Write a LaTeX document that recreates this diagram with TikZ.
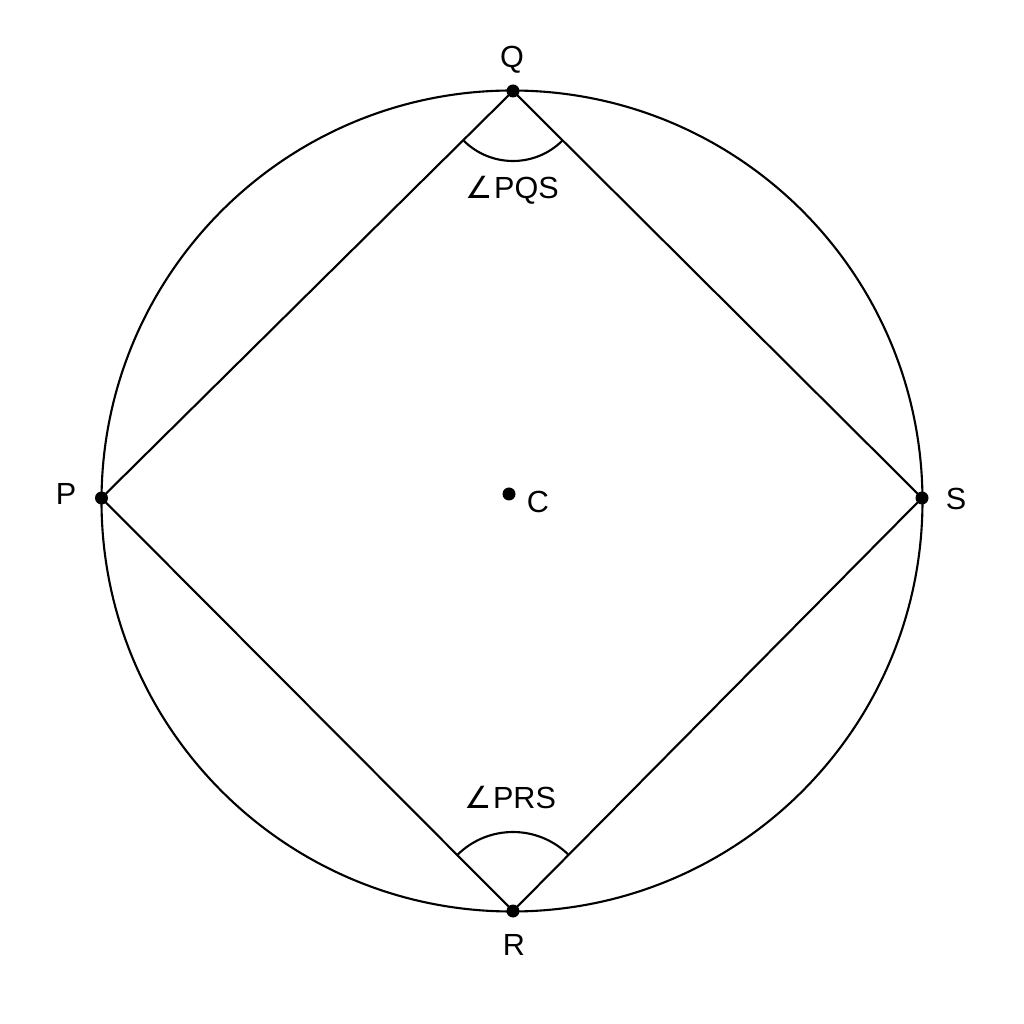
\documentclass[tikz,border=0pt]{standalone}
\usepackage{fontspec}
\setmainfont{Liberation Sans}
\newfontfamily\symfont{DejaVu Sans}
\newcommand{\angsym}{{\symfont\char"2220}\kern0.05em}
\usetikzlibrary{calc}

\begin{document}
\begin{tikzpicture}[line width=0.6pt, font=\fontsize{8.7}{10}\selectfont,
    dot/.style={circle,fill=black,inner sep=0pt,minimum size=0.13cm}]
        \useasboundingbox (0,0) rectangle (10.24,10.24);

        % Draw the circle
        \coordinate (O) at (5.12,5.23);
        \draw (O) circle[radius=4.105];

        % Points on the circle
        \node[dot] (Q) at ($(O)+(0.01,4.1)$) {};
        \node[dot] (P) at ($(O)+(-4.105,0.03)$) {};
        \node[dot] (S) at ($(O)+(4.1,0.03)$) {};
        \node[dot] (R) at ($(O)+(0.01,-4.1)$) {};

        % Centre
        \node[dot] (C) at (5.09,5.30) {};

        % Draw the quadrilateral
        \draw (P.center) -- (Q.center) -- (S.center) -- (R.center) -- cycle;

        % Angle arcs
        \draw ([shift={(225:0.7)}]Q.center) arc[start angle=225,end angle=315,radius=0.7];
        \draw ([shift={(45:0.79)}]R.center) arc[start angle=45,end angle=135,radius=0.79];

        % Labels
        \node (lQ) at (5.12,9.64) {Q};
        \node (lP) at (0.66,5.30) {P};
        \node (lS) at (9.56,5.25) {S};
        \node (lR) at (5.14,0.79) {R};
        \node (lC) at (5.38,5.22) {C};
        \node (aQ) at (5.12,8.34) {\angsym PQS};
        \node (aR) at (5.10,2.26) {\angsym PRS};
    \end{tikzpicture}
\end{document}
